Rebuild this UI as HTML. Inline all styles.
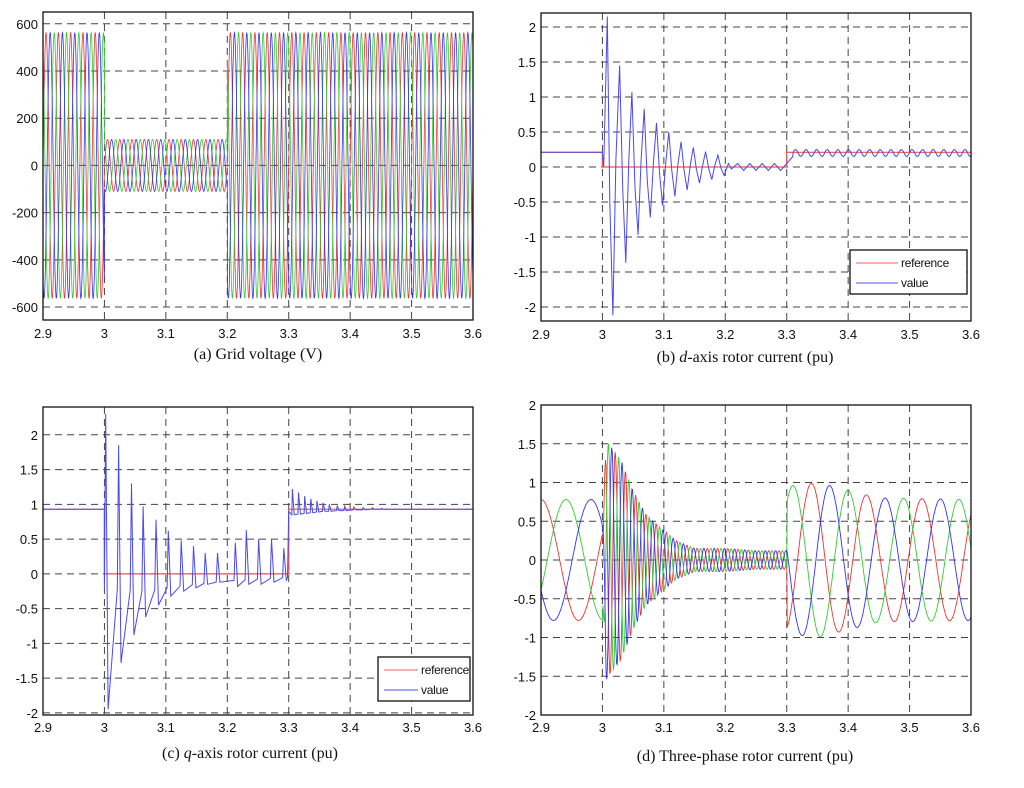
<!DOCTYPE html>
<html><head><meta charset="utf-8"><style>
body{margin:0;background:#fff;}
svg text{font-family:"Liberation Sans",sans-serif;font-size:13px;fill:#111;}
svg text.cap{font-family:"Liberation Serif",serif;font-size:16px;}
</style></head><body>
<svg id="s" width="1024" height="783" xmlns="http://www.w3.org/2000/svg"></svg>
<script>
// ---- data ----
const xTicks=[2.9,3.0,3.1,3.2,3.3,3.4,3.5,3.6];
const xTickLabels=["2.9","3","3.1","3.2","3.3","3.4","3.5","3.6"];
// (a) grid voltage segments
const vSegT=[2.9,3.0,3.2,3.6];
const vSegAmp=[563,110,563];
const vFreq=50;
const vTicks=[600,400,200,0,-200,-400,-600];
// (b) d-axis
const dTicks=[2,1.5,1,0.5,0,-0.5,-1,-1.5,-2];
const dRefT=[2.9,3.0,3.0,3.3,3.3,3.6];
const dRefV=[0.21,0.21,0,0,0.21,0.21];
const dValT=[2.9,3.0,3.002,3.008,3.012,3.017,3.022,3.028,3.033,3.038,3.043,3.048,3.053,3.058,3.063,3.068,3.073,3.078,3.083,3.088,3.093,3.098,3.103,3.108,3.113,3.118,3.123,3.128,3.133,3.138,3.143,3.148,3.153,3.158,3.163,3.168,3.173,3.178,3.183,3.188,3.193,3.198,3.205,3.21,3.22,3.23,3.24,3.25,3.26,3.27,3.28,3.29,3.3,3.31];
const dValV=[0.21,0.21,0,2.15,-0.5,-2.12,0.1,1.45,-0.3,-1.37,0.1,1.07,-0.3,-0.97,0.1,0.83,-0.2,-0.72,0.05,0.63,-0.1,-0.55,0.05,0.5,-0.05,-0.42,0.05,0.36,-0.05,-0.33,0.03,0.28,-0.03,-0.23,0.02,0.22,-0.02,-0.18,0.02,0.17,-0.02,-0.12,0.05,-0.03,0.05,-0.05,0.05,-0.05,0.05,-0.05,0.05,-0.05,0.05,0.15];
const dRippleMean=0.2, dRippleAmp=0.05, dRippleF=58;
// (c) q-axis
const qTicks=[2,1.5,1,0.5,0,-0.5,-1,-1.5,-2];
const qRefT=[2.9,3.0,3.0,3.3,3.3,3.6];
const qRefV=[0.93,0.93,0,0,0.93,0.93];
const qSpikeT=[3.0,3.021,3.042,3.061,3.082,3.102,3.123,3.143,3.162,3.182,3.211,3.229,3.249,3.270,3.290];
const qSpikeHi=[2.3,1.85,1.3,0.97,0.78,0.62,0.48,0.4,0.3,0.3,0.45,0.63,0.5,0.5,0.37];
const qSpikeLo=[-1.95,-1.28,-0.88,-0.62,-0.45,-0.32,-0.25,-0.2,-0.15,-0.12,-0.18,-0.15,-0.15,-0.12,-0.1];
const qBaseT=[3.0,3.06,3.12,3.2,3.3];
const qBaseV=[-0.2,-0.25,-0.18,-0.1,-0.05];
const qPostT=[3.305,3.315,3.325,3.335,3.345,3.355,3.365,3.378,3.39,3.405,3.42,3.435,3.45];
const qPostHi=[1.22,1.17,1.12,1.08,1.05,1.02,1.0,0.98,0.97,0.96,0.95,0.95,0.94];
const qPostLo=[0.85,0.86,0.87,0.88,0.89,0.9,0.9,0.91,0.91,0.92,0.92,0.93,0.93];
// (d) three-phase
const pTicks=[2,1.5,1,0.5,0,-0.5,-1,-1.5,-2];
const pPreAmp=0.78, pPreF=8.2, pPostF=11.1, pFaultF=60;
const pEnvT=[3.0,3.006,3.03,3.05,3.07,3.09,3.12,3.15,3.2,3.25,3.3];
const pEnvV=[0.4,1.55,1.3,0.9,0.6,0.45,0.25,0.15,0.15,0.12,0.12];
const pPostEnvT=[3.3,3.35,3.4,3.45,3.6];
const pPostEnvV=[0.95,1.0,0.9,0.8,0.78];

// ---- drawing ----
const S=document.getElementById('s');
const NS='http://www.w3.org/2000/svg';
function mk(tag,at,parent){const e=document.createElementNS(NS,tag);for(const k in at)e.setAttribute(k,at[k]);(parent||S).appendChild(e);return e;}
function interp(T,V,t){if(t<=T[0])return V[0];for(let i=1;i<T.length;i++){if(t<=T[i]){const f=(t-T[i-1])/(T[i]-T[i-1]||1);return V[i-1]+f*(V[i]-V[i-1]);}}return V[V.length-1];}
function axes(o){
  o.sx=t=>o.x0+(t-2.9)/0.7*(o.x1-o.x0);
  o.sy=v=>o.y1-(v-o.ymin)/(o.ymax-o.ymin)*(o.y1-o.y0);
  const g=mk('g',{});
  o.g=g;
  mk('rect',{x:o.x0,y:o.y0,width:o.x1-o.x0,height:o.y1-o.y0,fill:'#fff'},g);
  const grid=mk('g',{stroke:'#444','stroke-width':1,'stroke-dasharray':'7,5'},g);
  
  xTicks.forEach((t,i)=>{const x=o.sx(t);if(i>0&&i<xTicks.length-1)mk('line',{x1:x,x2:x,y1:o.y0,y2:o.y1},grid);
    const tx=mk('text',{x:x,y:o.y1+o.xlab,'text-anchor':'middle'},g);tx.textContent=xTickLabels[i];
    });
  o.yt.forEach(v=>{const y=o.sy(v);if(y>o.y0+1&&y<o.y1-1)mk('line',{x1:o.x0,x2:o.x1,y1:y,y2:y},grid);
    const tx=mk('text',{x:o.x0-5,y:y+5,'text-anchor':'end'},g);tx.textContent=String(v);
    });
  const c=mk('text',{x:o.cx,y:o.cy,'text-anchor':'middle',class:'cap'},g);c.innerHTML=o.cap;
  
  o.plot=mk('g',{},g);
  return o;
}
function frame(o){const r=mk('rect',{x:o.x0,y:o.y0,width:o.x1-o.x0,height:o.y1-o.y0,fill:'none',stroke:'#111','stroke-width':1.3},o.g);
  }
function line(o,pts,color,name,w){const d=pts.map((p,i)=>(i?'L':'M')+o.sx(p[0]).toFixed(1)+' '+o.sy(p[1]).toFixed(1)).join('');
  const p=mk('path',{d:d,fill:'none',stroke:color,'stroke-width':w||1},o.plot);
  return p;}
function legend(o,x,y,w,h,sw){const g=mk('g',{},o.g);
  mk('rect',{x:x,y:y,width:w,height:h,fill:'#fff',stroke:'#111','stroke-width':1.3},g);
  [['reference','#f06060'],['value','#5050e8']].forEach((e,i)=>{const yy=y+13+i*20;
    const l=mk('line',{x1:x+6,x2:x+6+sw,y1:yy,y2:yy,stroke:e[1]},g);
    
    const t=mk('text',{x:x+9+sw,y:yy+4,style:'font-size:12px;letter-spacing:-0.3px'},g);t.textContent=e[0];
    });}
const colors=['#ee3333','#33cc33','#3333ee'];

// (a)
const A=axes({name:'panel-a-grid-voltage',x0:43,x1:473,y0:12,y1:320,ymin:-655,ymax:650,yt:vTicks,xlab:18,cap:'(a) Grid voltage (V)',cx:258,cy:359});
for(let k=0;k<3;k++){const pts=[];for(let t=2.9;t<=3.6001;t+=0.0004){let s=0;for(let i=0;i<vSegAmp.length;i++)if(t>=vSegT[i])s=i;
  pts.push([t,vSegAmp[s]*Math.sin(2*Math.PI*vFreq*t+k*2*Math.PI/3)]);}
  line(A,pts,colors[k],'phase-voltage-'+k,0.8);}
frame(A);

// (b)
const B=axes({name:'panel-b-d-axis-current',x0:541,x1:971,y0:13,y1:321,ymin:-2.2,ymax:2.2,yt:dTicks,xlab:18,cap:'(b) <tspan font-style="italic">d</tspan>-axis rotor current (pu)',cx:745,cy:362});
const dPts=dValT.map((t,i)=>[t,dValV[i]]);
for(let t=3.31;t<=3.6;t+=0.002)dPts.push([t,dRippleMean+dRippleAmp*Math.sin(2*Math.PI*dRippleF*(t-3.31))]);
line(B,dRefT.map((t,i)=>[t,dRefV[i]]),'#f05050','d-reference-line',1.2);
line(B,dPts,'#4a4ae8','d-value-line',1);
frame(B);legend(B,850,250,117,44,42);

// (c)
const C=axes({name:'panel-c-q-axis-current',x0:43,x1:473,y0:407,y1:715,ymin:-2.03,ymax:2.4,yt:qTicks,xlab:17,cap:'(c) <tspan font-style="italic">q</tspan>-axis rotor current (pu)',cx:250,cy:758});
const qPts=[[2.9,0.93],[3.0,0.93]];
qSpikeT.forEach((t,i)=>{qPts.push([t,interp(qBaseT,qBaseV,t)]);qPts.push([t+0.002,qSpikeHi[i]]);qPts.push([t+0.006,qSpikeLo[i]]);});
qPts.push([3.298,-0.05]);qPts.push([3.3,0.9]);
qPostT.forEach((t,i)=>{qPts.push([t,qPostLo[i]]);qPts.push([t+0.001,qPostHi[i]]);qPts.push([t+0.004,qPostLo[i]]);});
qPts.push([3.6,0.93]);
line(C,qRefT.map((t,i)=>[t,qRefV[i]]),'#f05050','q-reference-line',1.2);
line(C,qPts,'#4a4ae8','q-value-line',1);
frame(C);legend(C,378,657,92,44,34);

// (d)
const D=axes({name:'panel-d-three-phase-current',x0:541,x1:971,y0:405,y1:715,ymin:-2,ymax:2,yt:pTicks,xlab:17,cap:'(d) Three-phase rotor current (pu)',cx:745,cy:761});
for(let k=0;k<3;k++){const pts=[];for(let t=2.9;t<=3.6001;t+=0.001){let v;
  if(t<3.0)v=pPreAmp*Math.cos(2*Math.PI*pPreF*(t-2.9)-k*2*Math.PI/3);
  else if(t<3.3)v=interp(pEnvT,pEnvV,t)*Math.sin(2*Math.PI*pFaultF*(t-3.0)-k*2*Math.PI/3);
  else v=interp(pPostEnvT,pPostEnvV,t)*Math.cos(2*Math.PI*pPostF*(t-3.31)+(k+2)%3*2*Math.PI/3);
  pts.push([t,v]);}
  line(D,pts,colors[k],'phase-current-'+k,0.9);}
frame(D);
</script>
</body></html>
